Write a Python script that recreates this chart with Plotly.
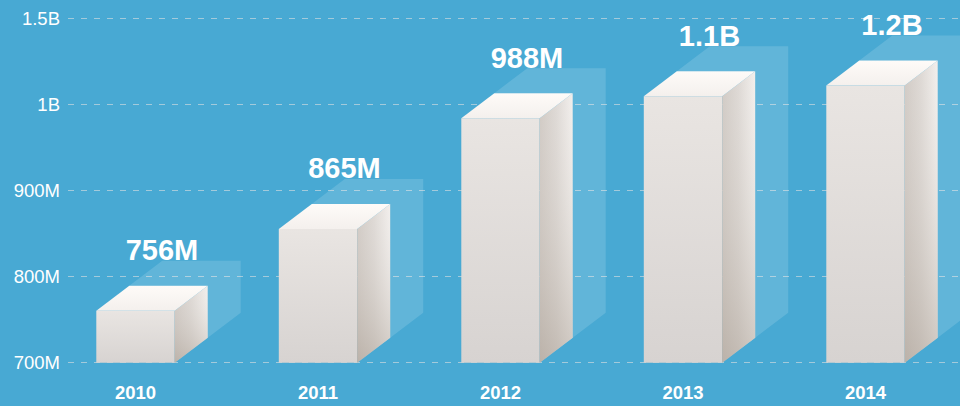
import plotly.graph_objects as go

years = ["2010", "2011", "2012", "2013", "2014"]
value_labels = ["756M", "865M", "988M", "1.1B", "1.2B"]
# bar heights on the evenly spaced (non-linear) axis: 0=700M, 1=800M, 2=900M, 3=1B, 4=1.5B
bar_heights = [0.603, 1.554, 2.84, 3.096, 3.22]
axis_ticks = [0, 1, 2, 3, 4]
axis_tick_labels = ["700M", "800M", "900M", "1B", "1.5B"]

W, H = 960, 406
PAD = 0.05
L, R = 68, 0
UY = 86.25
T, B = 18 - PAD * UY, 43 - PAD * UY
PX = 182.5
HALF = 39.2 / PX
DX, DY = 33 / PX, 25 / UY
X0 = -67.5 / PX
X1 = X0 + (W - L - R) / PX
LX, LY = 26.5 / PX, 58 / UY
BG = "#48A9D3"

fig = go.Figure()

def poly(xs, ys, stops=None, kind="vertical", color=None):
    t = dict(x=xs + xs[:1], y=ys + ys[:1], mode="lines", fill="toself",
             line=dict(width=0), hoverinfo="skip", showlegend=False)
    if stops:
        t["fillgradient"] = dict(type=kind, colorscale=stops)
    else:
        t["fillcolor"] = color
    fig.add_trace(go.Scatter(**t))

for i, h in enumerate(bar_heights):
    l, r = i - HALF, i + HALF
    # translucent shadow block behind
    poly([l + DX, l + 2 * DX, r + 2 * DX, r + 2 * DX, r + DX, r + DX],
         [h + DY, h + 2 * DY, h + 2 * DY, 2 * DY, DY, h + DY],
         color="rgba(255,255,255,0.14)")
    # front face
    poly([l, r, r, l], [0, 0, h, h],
         stops=[[0, "#D7D3D1"], [1, "#E9E5E2"]], kind="vertical")
    # side face
    poly([r, r + DX, r + DX, r], [0, DY, h + DY, h],
         stops=[[0, "#C6BEB7"], [0.5, "#D6D0CB"], [1, "#EFEBE8"]], kind="horizontal")
    poly([r, r + DX, r + DX, r], [0, DY, h + DY, h],
         stops=[[0, "rgba(178,168,158,0.55)"], [1, "rgba(255,255,255,0.2)"]], kind="vertical")
    # top face
    poly([l, r, r + DX, l + DX], [h, h, h + DY, h + DY],
         stops=[[0, "#F4F0ED"], [1, "#FEFBF8"]], kind="vertical")

fig.add_trace(go.Scatter(
    x=[i + LX for i in range(len(years))],
    y=[h + LY for h in bar_heights],
    mode="text", text=value_labels, textposition="middle center",
    textfont=dict(family="Liberation Sans", size=29, color="white", weight="bold"),
    hoverinfo="skip", showlegend=False, cliponaxis=False))

fig.update_layout(
    width=W, height=H, margin=dict(l=L, r=R, t=T, b=B),
    paper_bgcolor=BG, plot_bgcolor=BG, showlegend=False,
    xaxis=dict(range=[X0, X1], tickvals=list(range(len(years))), ticktext=[f"<b>{y}</b>" for y in years],
               showgrid=False, zeroline=False, showline=False, ticks="",
               tickfont=dict(family="Liberation Sans", size=18.5, color="white"), ticklabelstandoff=12),
    yaxis=dict(range=[-PAD, 4 + PAD], tickvals=axis_ticks, ticktext=axis_tick_labels,
               showgrid=True, gridcolor="rgba(225,225,225,0.6)", griddash="6px,7px", gridwidth=1,
               zeroline=False, showline=False, ticks="",
               tickfont=dict(family="Liberation Sans", size=18.5, color="white"), ticklabelstandoff=7),
)
fig.write_html("out.html", config=dict(displayModeBar=False), include_plotlyjs=True,
               post_script="document.body.style.margin='0';document.body.style.overflow='hidden';")
